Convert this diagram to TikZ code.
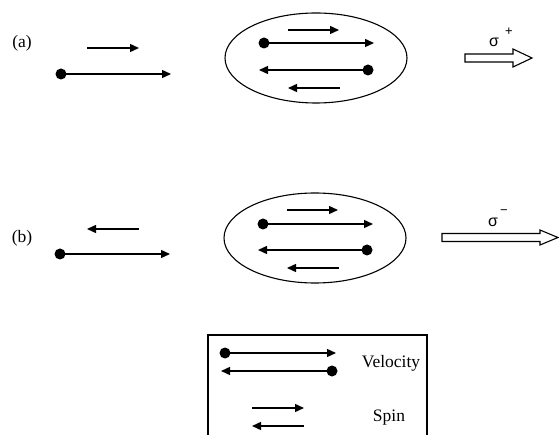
\documentclass[tikz,border=0pt]{standalone}
\usepackage{fontspec}
\setmainfont{Liberation Serif}
\newfontfamily\sigfont{Liberation Sans}
\usetikzlibrary{arrows.meta}
\tikzset{
  vel/.style={line width=1.4pt, -{Triangle[length=9pt,width=8pt]}},
  spinarr/.style={line width=1.4pt, -{Triangle[length=9pt,width=8pt]}},
  dot/.style={circle, fill=black, inner sep=0pt, minimum size=11pt},
  cloud/.style={draw, line width=1.1pt},
  lbl/.style={font=\fontsize{17.5}{20}\selectfont, inner sep=0pt},
  sig/.style={font=\sigfont\fontsize{16}{18}\selectfont, inner sep=0pt},
  sigsup/.style={font=\sigfont\fontsize{13}{15}\selectfont, inner sep=0pt},
  photon/.style={draw, line width=1.1pt, fill=white, line join=miter},
}
\begin{document}
\begin{tikzpicture}[x=1pt,y=-1pt]
\useasboundingbox (0,0) rectangle (559,435);

% ---------- (a) ----------
\node[lbl] (la) at (22,43) {(a)};
% free electron: spin and velocity
\coordinate (aS1) at (87,48);  \coordinate (aS2) at (139,48);
\draw[spinarr] (aS1) -- (aS2);
\node[dot] (aV) at (61,74) {};
\coordinate (aVe) at (171,74);
\draw[vel] (aV.center) -- (aVe);
% bound pair
\draw[cloud] (316,58) ellipse [x radius=91, y radius=45];
\coordinate (aP1) at (288,30); \coordinate (aP2) at (339,30);
\draw[spinarr] (aP1) -- (aP2);
\node[dot] (aU) at (264,43) {};
\coordinate (aUe) at (374,43);
\draw[vel] (aU.center) -- (aUe);
\node[dot] (aL) at (368,70) {};
\coordinate (aLe) at (259,70);
\draw[vel] (aL.center) -- (aLe);
\coordinate (aQ1) at (340,88); \coordinate (aQ2) at (288,88);
\draw[spinarr] (aQ1) -- (aQ2);
% emitted photon
\node[sig] (sa) at (494,42) {σ};
\node[sigsup] (sap) at (509,32) {+};
\draw[photon] (465,54) -- (513,54) -- (513,49) -- (532,58) -- (513,67) -- (513,62) -- (465,62) -- cycle;

% ---------- (b) ----------
\node[lbl] (lb) at (22,238) {(b)};
\coordinate (bS1) at (139,229); \coordinate (bS2) at (87,229);
\draw[spinarr] (bS1) -- (bS2);
\node[dot] (bV) at (60,254) {};
\coordinate (bVe) at (170,254);
\draw[vel] (bV.center) -- (bVe);
\draw[cloud] (315,238) ellipse [x radius=91, y radius=45];
\coordinate (bP1) at (287,210); \coordinate (bP2) at (338,210);
\draw[spinarr] (bP1) -- (bP2);
\node[dot] (bU) at (263,224) {};
\coordinate (bUe) at (373,224);
\draw[vel] (bU.center) -- (bUe);
\node[dot] (bL) at (367,250) {};
\coordinate (bLe) at (258,250);
\draw[vel] (bL.center) -- (bLe);
\coordinate (bQ1) at (339,268); \coordinate (bQ2) at (287,268);
\draw[spinarr] (bQ1) -- (bQ2);
\node[sig] (sb) at (493,222) {σ};
\node[sigsup] (sbm) at (504,212) {−};
\draw[photon] (442,233.5) -- (540,233.5) -- (540,230) -- (558,237.5) -- (540,245) -- (540,241.5) -- (442,241.5) -- cycle;

% ---------- legend ----------
\draw[line width=1.3pt] (208,435) -- (208,335) -- (427,335) -- (427,435);
\node[dot] (kU) at (225,353) {};
\coordinate (kUe) at (336,353);
\draw[vel] (kU.center) -- (kUe);
\node[dot] (kL) at (332,371) {};
\coordinate (kLe) at (221,371);
\draw[vel] (kL.center) -- (kLe);
\node[lbl] (kvel) at (391,363) {Velocity};
\coordinate (kS1) at (252,408); \coordinate (kS2) at (304,408);
\draw[spinarr] (kS1) -- (kS2);
\coordinate (kT1) at (304,426); \coordinate (kT2) at (252,426);
\draw[spinarr] (kT1) -- (kT2);
\node[lbl] (kspin) at (389,418) {Spin};
\end{tikzpicture}
\end{document}
